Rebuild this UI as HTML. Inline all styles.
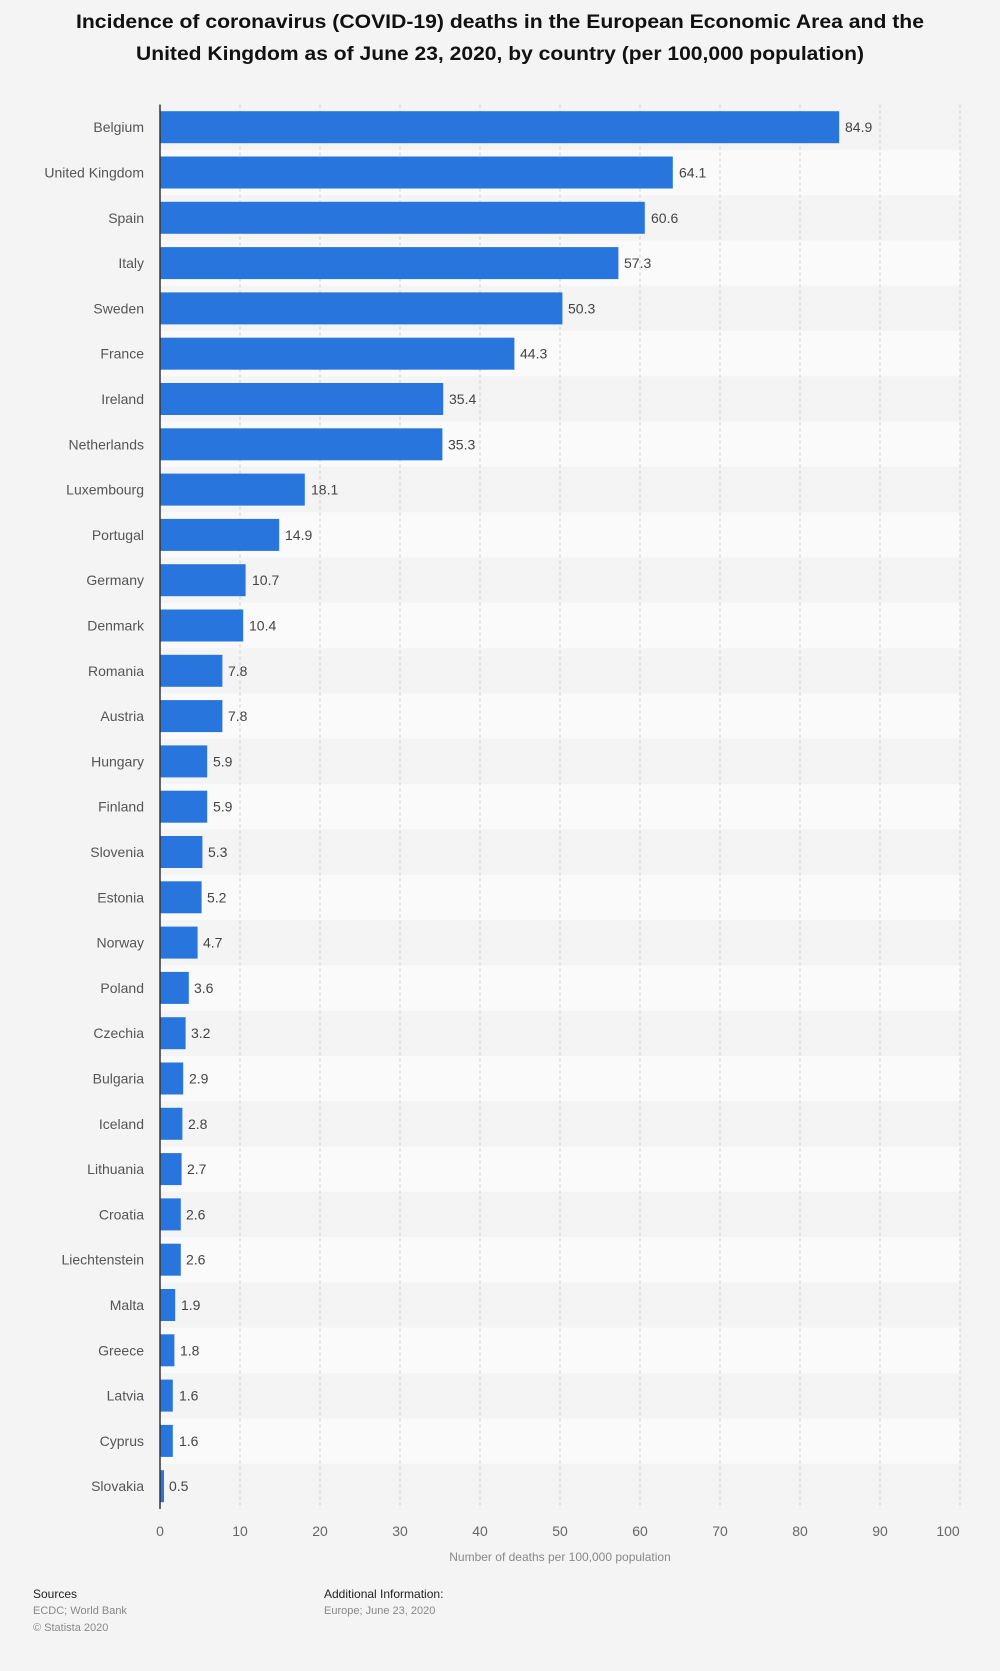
<!DOCTYPE html>
<html><head><meta charset="utf-8"><style>
html,body{margin:0;padding:0;background:#f4f4f4;}
svg{display:block;font-family:"Liberation Sans",sans-serif;}
.l{font-size:14px;fill:#555;text-anchor:end;}
.v{font-size:14px;fill:#444;}
.t{font-size:14px;fill:#666;text-anchor:middle;}
</style></head><body>
<svg width="1000" height="1671" viewBox="0 0 1000 1671">
<rect width="1000" height="1671" fill="#f4f4f4"/>
<text x="500" y="28" font-size="19" font-weight="bold" fill="#111" text-anchor="middle" textLength="848" lengthAdjust="spacingAndGlyphs">Incidence of coronavirus (COVID-19) deaths in the European Economic Area and the</text>
<text x="500" y="60" font-size="19" font-weight="bold" fill="#111" text-anchor="middle" textLength="728" lengthAdjust="spacingAndGlyphs">United Kingdom as of June 23, 2020, by country (per 100,000 population)</text>
<g fill="#fafafa">
<rect x="160" y="149.9" width="800" height="45.3"/><rect x="160" y="240.5" width="800" height="45.3"/><rect x="160" y="331.1" width="800" height="45.3"/><rect x="160" y="421.7" width="800" height="45.3"/><rect x="160" y="512.3" width="800" height="45.3"/><rect x="160" y="602.9" width="800" height="45.3"/><rect x="160" y="693.5" width="800" height="45.3"/><rect x="160" y="784.1" width="800" height="45.3"/><rect x="160" y="874.7" width="800" height="45.3"/><rect x="160" y="965.3" width="800" height="45.3"/><rect x="160" y="1055.9" width="800" height="45.3"/><rect x="160" y="1146.5" width="800" height="45.3"/><rect x="160" y="1237.1" width="800" height="45.3"/><rect x="160" y="1327.7" width="800" height="45.3"/><rect x="160" y="1418.3" width="800" height="45.3"/>
</g>
<g stroke="#ccc" stroke-dasharray="3,3" stroke-width="1">
<line x1="240" y1="104.5" x2="240" y2="1509"/><line x1="320" y1="104.5" x2="320" y2="1509"/><line x1="400" y1="104.5" x2="400" y2="1509"/><line x1="480" y1="104.5" x2="480" y2="1509"/><line x1="560" y1="104.5" x2="560" y2="1509"/><line x1="640" y1="104.5" x2="640" y2="1509"/><line x1="720" y1="104.5" x2="720" y2="1509"/><line x1="800" y1="104.5" x2="800" y2="1509"/><line x1="880" y1="104.5" x2="880" y2="1509"/><line x1="960" y1="104.5" x2="960" y2="1509"/>
</g>
<g fill="#2876dd">
<rect x="160" y="111.2" width="679.2" height="32"/>
<rect x="160" y="156.5" width="512.8" height="32"/>
<rect x="160" y="201.8" width="484.8" height="32"/>
<rect x="160" y="247.1" width="458.4" height="32"/>
<rect x="160" y="292.4" width="402.4" height="32"/>
<rect x="160" y="337.7" width="354.4" height="32"/>
<rect x="160" y="383.0" width="283.2" height="32"/>
<rect x="160" y="428.3" width="282.4" height="32"/>
<rect x="160" y="473.6" width="144.8" height="32"/>
<rect x="160" y="518.9" width="119.2" height="32"/>
<rect x="160" y="564.2" width="85.6" height="32"/>
<rect x="160" y="609.5" width="83.2" height="32"/>
<rect x="160" y="654.8" width="62.4" height="32"/>
<rect x="160" y="700.1" width="62.4" height="32"/>
<rect x="160" y="745.4" width="47.2" height="32"/>
<rect x="160" y="790.7" width="47.2" height="32"/>
<rect x="160" y="836.0" width="42.4" height="32"/>
<rect x="160" y="881.3" width="41.6" height="32"/>
<rect x="160" y="926.6" width="37.6" height="32"/>
<rect x="160" y="971.9" width="28.8" height="32"/>
<rect x="160" y="1017.2" width="25.6" height="32"/>
<rect x="160" y="1062.5" width="23.2" height="32"/>
<rect x="160" y="1107.8" width="22.4" height="32"/>
<rect x="160" y="1153.1" width="21.6" height="32"/>
<rect x="160" y="1198.4" width="20.8" height="32"/>
<rect x="160" y="1243.7" width="20.8" height="32"/>
<rect x="160" y="1289.0" width="15.2" height="32"/>
<rect x="160" y="1334.3" width="14.4" height="32"/>
<rect x="160" y="1379.6" width="12.8" height="32"/>
<rect x="160" y="1424.9" width="12.8" height="32"/>
<rect x="160" y="1470.2" width="4" height="32"/>
</g>
<line x1="160" y1="104.5" x2="160" y2="1509" stroke="#333" stroke-width="1.5"/>
<g class="l">
<text x="144" y="132.2">Belgium</text><text x="144" y="177.5">United Kingdom</text><text x="144" y="222.8">Spain</text><text x="144" y="268.1">Italy</text><text x="144" y="313.4">Sweden</text><text x="144" y="358.7">France</text><text x="144" y="404.0">Ireland</text><text x="144" y="449.3">Netherlands</text><text x="144" y="494.6">Luxembourg</text><text x="144" y="539.9">Portugal</text><text x="144" y="585.2">Germany</text><text x="144" y="630.5">Denmark</text><text x="144" y="675.8">Romania</text><text x="144" y="721.1">Austria</text><text x="144" y="766.4">Hungary</text><text x="144" y="811.7">Finland</text><text x="144" y="857.0">Slovenia</text><text x="144" y="902.3">Estonia</text><text x="144" y="947.6">Norway</text><text x="144" y="992.9">Poland</text><text x="144" y="1038.2">Czechia</text><text x="144" y="1083.5">Bulgaria</text><text x="144" y="1128.8">Iceland</text><text x="144" y="1174.1">Lithuania</text><text x="144" y="1219.4">Croatia</text><text x="144" y="1264.7">Liechtenstein</text><text x="144" y="1310.0">Malta</text><text x="144" y="1355.3">Greece</text><text x="144" y="1400.6">Latvia</text><text x="144" y="1445.9">Cyprus</text><text x="144" y="1491.2">Slovakia</text>
</g>
<g class="v">
<text x="845" y="132.2">84.9</text><text x="679" y="177.5">64.1</text><text x="651" y="222.8">60.6</text><text x="624" y="268.1">57.3</text><text x="568" y="313.4">50.3</text><text x="520" y="358.7">44.3</text><text x="449" y="404.0">35.4</text><text x="448" y="449.3">35.3</text><text x="311" y="494.6">18.1</text><text x="285" y="539.9">14.9</text><text x="252" y="585.2">10.7</text><text x="249" y="630.5">10.4</text><text x="228" y="675.8">7.8</text><text x="228" y="721.1">7.8</text><text x="213" y="766.4">5.9</text><text x="213" y="811.7">5.9</text><text x="208" y="857.0">5.3</text><text x="207" y="902.3">5.2</text><text x="203" y="947.6">4.7</text><text x="194" y="992.9">3.6</text><text x="191" y="1038.2">3.2</text><text x="189" y="1083.5">2.9</text><text x="188" y="1128.8">2.8</text><text x="187" y="1174.1">2.7</text><text x="186" y="1219.4">2.6</text><text x="186" y="1264.7">2.6</text><text x="181" y="1310.0">1.9</text><text x="180" y="1355.3">1.8</text><text x="179" y="1400.6">1.6</text><text x="179" y="1445.9">1.6</text><text x="169" y="1491.2">0.5</text>
</g>
<g class="t">
<text x="160" y="1536">0</text><text x="240" y="1536">10</text><text x="320" y="1536">20</text><text x="400" y="1536">30</text><text x="480" y="1536">40</text><text x="560" y="1536">50</text><text x="640" y="1536">60</text><text x="720" y="1536">70</text><text x="800" y="1536">80</text><text x="880" y="1536">90</text><text x="948" y="1536">100</text>
</g>
<text x="560" y="1561" font-size="12" fill="#888" text-anchor="middle">Number of deaths per 100,000 population</text>
<text x="33" y="1598" font-size="12" fill="#222">Sources</text>
<text x="33" y="1614" font-size="11" fill="#888">ECDC; World Bank</text>
<text x="33" y="1631" font-size="11" fill="#888">© Statista 2020</text>
<text x="324" y="1598" font-size="12" fill="#222">Additional Information:</text>
<text x="324" y="1614" font-size="11" fill="#888">Europe; June 23, 2020</text>
</svg>
</body></html>
